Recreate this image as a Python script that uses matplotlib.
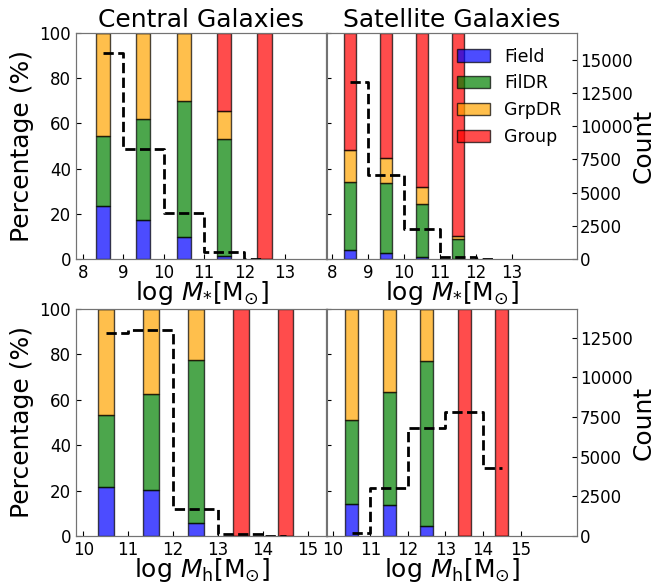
import matplotlib
matplotlib.use('Agg')
import matplotlib.pyplot as plt
import numpy as np

envs = ['Field', 'FilDR', 'GrpDR', 'Group']
colors = ['blue', 'green', 'orange', 'red']

# stellar mass bins (centrals / satellites)
mstar_bins = [8.5, 9.5, 10.5, 11.5, 12.5]
cen_mstar = {
    'Field': [23.5, 17.4, 9.9, 1.5, 0],
    'FilDR': [30.9, 44.5, 59.9, 51.7, 0],
    'GrpDR': [45.6, 38.1, 30.2, 12.4, 0],
    'Group': [0, 0, 0, 34.4, 100],
}
cen_mstar_count = [15500, 8300, 3470, 530, 30]

sat_mstar_bins = [8.5, 9.5, 10.5, 11.5]
sat_mstar = {
    'Field': [4.1, 2.5, 0.9, 0.2],
    'FilDR': [29.8, 31.0, 23.6, 8.5],
    'GrpDR': [14.5, 11.3, 7.2, 1.5],
    'Group': [51.6, 55.2, 68.3, 89.8],
}
sat_mstar_count = [13350, 6330, 2260, 150, 20]

# halo mass bins
mh_bins = [10.5, 11.5, 12.5, 13.5, 14.5]
cen_mh = {
    'Field': [21.5, 20.4, 5.8, 0, 0],
    'FilDR': [32.0, 42.1, 71.8, 0, 0],
    'GrpDR': [46.5, 37.5, 22.4, 0, 0],
    'Group': [0, 0, 0, 100, 100],
}
cen_mh_count = [12800, 13000, 1700, 130, 30]

sat_mh = {
    'Field': [13.9, 13.7, 4.6, 0, 0],
    'FilDR': [37.0, 49.6, 72.7, 0, 0],
    'GrpDR': [49.1, 36.7, 22.7, 0, 0],
    'Group': [0, 0, 0, 100, 100],
}
sat_mh_count = [200, 3030, 6800, 7830, 4290]


def stack(ax, x, frac, xcount, count, cmax, xlim, xticks, left, right):
    bottom = np.zeros(len(x))
    for env, c in zip(envs, colors):
        v = np.array(frac[env])
        ax.bar(x, v, width=0.35, bottom=bottom, color=c, alpha=0.7,
               edgecolor='black', label=env)
        bottom += v
    ax.set_ylim(0, 100)
    ax.set_xlim(*xlim)
    ax.set_xticks(xticks)
    ax.set_yticks([0, 20, 40, 60, 80, 100])
    ax.tick_params(direction='in', labelsize=12)
    if not left:
        ax.set_yticklabels([])
    tw = ax.twinx()
    tw.plot(xcount, count, drawstyle='steps-mid', color='black', ls='--', lw=2)
    tw.set_ylim(0, cmax)
    tw.set_xlim(*xlim)
    tw.tick_params(direction='in', labelsize=12, pad=2)
    if right:
        tw.set_yticks(np.arange(0, cmax, 2500))
        tw.set_ylabel('Count', fontsize=18, labelpad=-1)
    else:
        tw.set_yticks([])
    for a in (ax, tw):
        for s in a.spines.values():
            s.set_color('0.45')
    return tw


fig = plt.figure(figsize=(6.54, 5.84), dpi=100)
W, H = 654, 584
def box(x0, y0, x1, y1):
    return [x0 / W, 1 - y1 / H, (x1 - x0) / W, (y1 - y0) / H]

ax1 = fig.add_axes(box(76, 33, 327, 259))
ax2 = fig.add_axes(box(326, 33, 577, 259))
ax3 = fig.add_axes(box(76, 309, 327, 536))
ax4 = fig.add_axes(box(326, 309, 577, 536))

stack(ax1, mstar_bins, cen_mstar, mstar_bins, cen_mstar_count, 17000,
      (7.83, 14.05), range(8, 14), True, False)
stack(ax2, sat_mstar_bins, sat_mstar, mstar_bins, sat_mstar_count, 17000,
      (7.83, 14.8), range(8, 14), False, True)
stack(ax3, mh_bins, cen_mh, mh_bins, cen_mh_count, 14300,
      (9.84, 15.42), range(10, 16), True, False)
stack(ax4, mh_bins, sat_mh, mh_bins, sat_mh_count, 14300,
      (9.82, 16.5), range(10, 16), False, True)

ax1.set_title('Central Galaxies', fontsize=18, pad=4)
ax2.set_title('Satellite Galaxies', fontsize=18, pad=4)
for a in (ax1, ax2):
    a.set_xlabel(r'log $M_{*}$[M$_{\odot}$]', fontsize=18, labelpad=-2)
for a in (ax3, ax4):
    a.set_xlabel(r'log $M_{\rm h}$[M$_{\odot}$]', fontsize=18, labelpad=-2)
for a in (ax1, ax3):
    a.set_ylabel('Percentage (%)', fontsize=18)

h, l = ax2.get_legend_handles_labels()
leg = fig.legend(h, l, loc='upper right', bbox_to_anchor=(577 / W, 1 - 32 / H),
                 fontsize=12.5, frameon=False, handlelength=1.9, handleheight=0.7,
                 labelspacing=0.5)

fig.savefig('out.png', dpi=100)
